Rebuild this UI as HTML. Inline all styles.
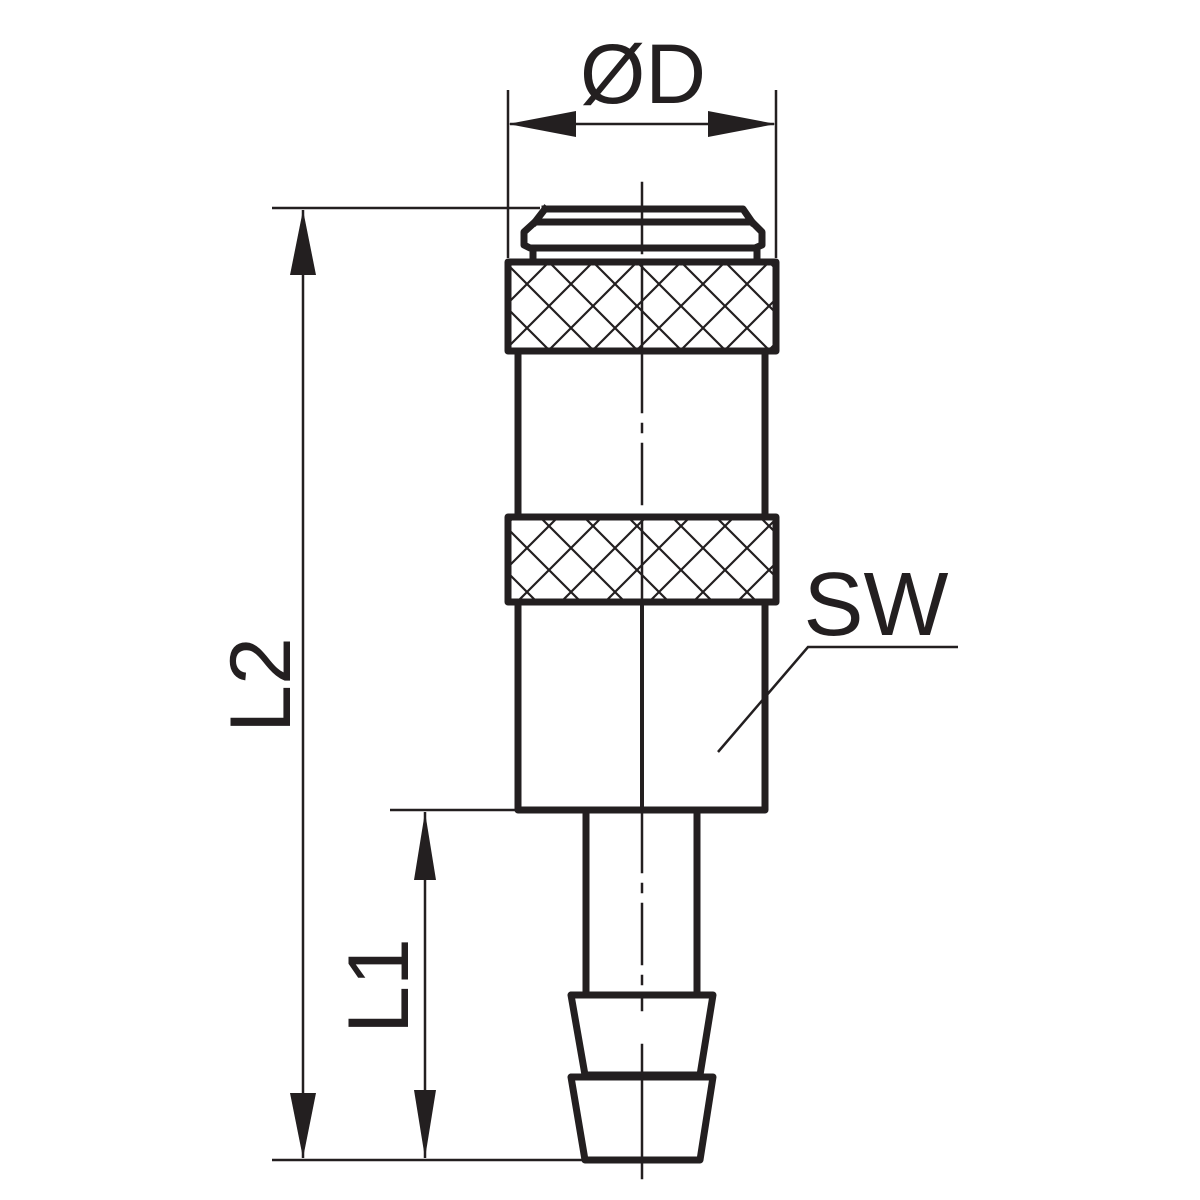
<!DOCTYPE html>
<html><head><meta charset="utf-8"><style>html,body{margin:0;padding:0;background:#fff}svg{display:block}</style></head>
<body>
<svg width="1200" height="1200" viewBox="0 0 1200 1200" xmlns="http://www.w3.org/2000/svg">
<defs>
<pattern id="hatch" patternUnits="userSpaceOnUse" width="44" height="44" x="505" y="262">
<path d="M-2 -2L46 46M46 -2L-2 46" stroke="#231f20" stroke-width="2.2" fill="none"/>
</pattern>
</defs>
<g fill="none" stroke="#231f20" stroke-linecap="square">
<rect x="508" y="263" width="267" height="86" fill="url(#hatch)" stroke="none"/>
<rect x="508" y="518" width="267" height="82" fill="url(#hatch)" stroke="none"/>
<line x1="642" y1="262" x2="642" y2="350" stroke-width="2.5"/>
<line x1="642" y1="517" x2="642" y2="602" stroke-width="2.5"/>
<g stroke-width="7" stroke-linejoin="round">
<path d="M545 209L743 209L752 222"/>
<path d="M545 209L535 222"/>
<path d="M535 222L752 222L762 232L762 245L755 248L530 248L524 245L524 232Z"/>
<line x1="533" y1="248" x2="533" y2="260"/>
<line x1="757" y1="248" x2="757" y2="260"/>
<rect x="508" y="262" width="268" height="89"/>
<rect x="508" y="517" width="268" height="85"/>
<line x1="518" y1="352" x2="518" y2="516"/>
<line x1="765" y1="352" x2="765" y2="516"/>
<path d="M518 603L518 810L765 810L765 603"/>
<line x1="642" y1="603" x2="642" y2="808" stroke-width="4"/>
<line x1="586" y1="812" x2="586" y2="995"/>
<line x1="697" y1="812" x2="697" y2="995"/>
<path d="M571 995L713 995L700 1075L585 1075Z"/>
<path d="M571 1077L713 1077L700 1160L585 1160Z"/>
</g>
<g stroke-width="2.5">
<line x1="642" y1="183" x2="642" y2="262" stroke-dasharray="70,12,8,12"/>
<line x1="642" y1="352" x2="642" y2="516" stroke-dasharray="60,12,8,12"/>
<line x1="642" y1="812" x2="642" y2="1010" stroke-dasharray="60,12,8,12"/>
<line x1="642" y1="1045" x2="642" y2="1178"/>
</g>
<g stroke-width="2.5" stroke-linecap="butt">
<line x1="508" y1="90" x2="508" y2="258"/>
<line x1="776" y1="90" x2="776" y2="258"/>
<line x1="510" y1="124" x2="774" y2="124"/>
<line x1="272" y1="208" x2="540" y2="208"/>
<line x1="272" y1="1160" x2="585" y2="1160"/>
<line x1="303" y1="210" x2="303" y2="1158"/>
<line x1="390" y1="810" x2="516" y2="810"/>
<line x1="425" y1="812" x2="425" y2="1158"/>
<path d="M718 752L808 647L958 647"/>
</g>
</g>
<g fill="#231f20">
<path d="M508 124L576 111L576 137Z"/>
<path d="M776 124L708 111L708 137Z"/>
<path d="M303 210L290 275L316 275Z"/>
<path d="M303 1158L290 1093L316 1093Z"/>
<path d="M425 812L414 880L436 880Z"/>
<path d="M425 1158L414 1090L436 1090Z"/>
</g>
<g font-family="Liberation Sans, sans-serif" fill="#231f20">
<text x="643" y="103" font-size="84" text-anchor="middle">ØD</text>
<text x="876" y="635" font-size="90" text-anchor="middle">SW</text>
<text transform="translate(290 685) rotate(-90)" font-size="86" text-anchor="middle">L2</text>
<text transform="translate(408 986) rotate(-90)" font-size="86" text-anchor="middle">L1</text>
</g>
</svg>
</body></html>
